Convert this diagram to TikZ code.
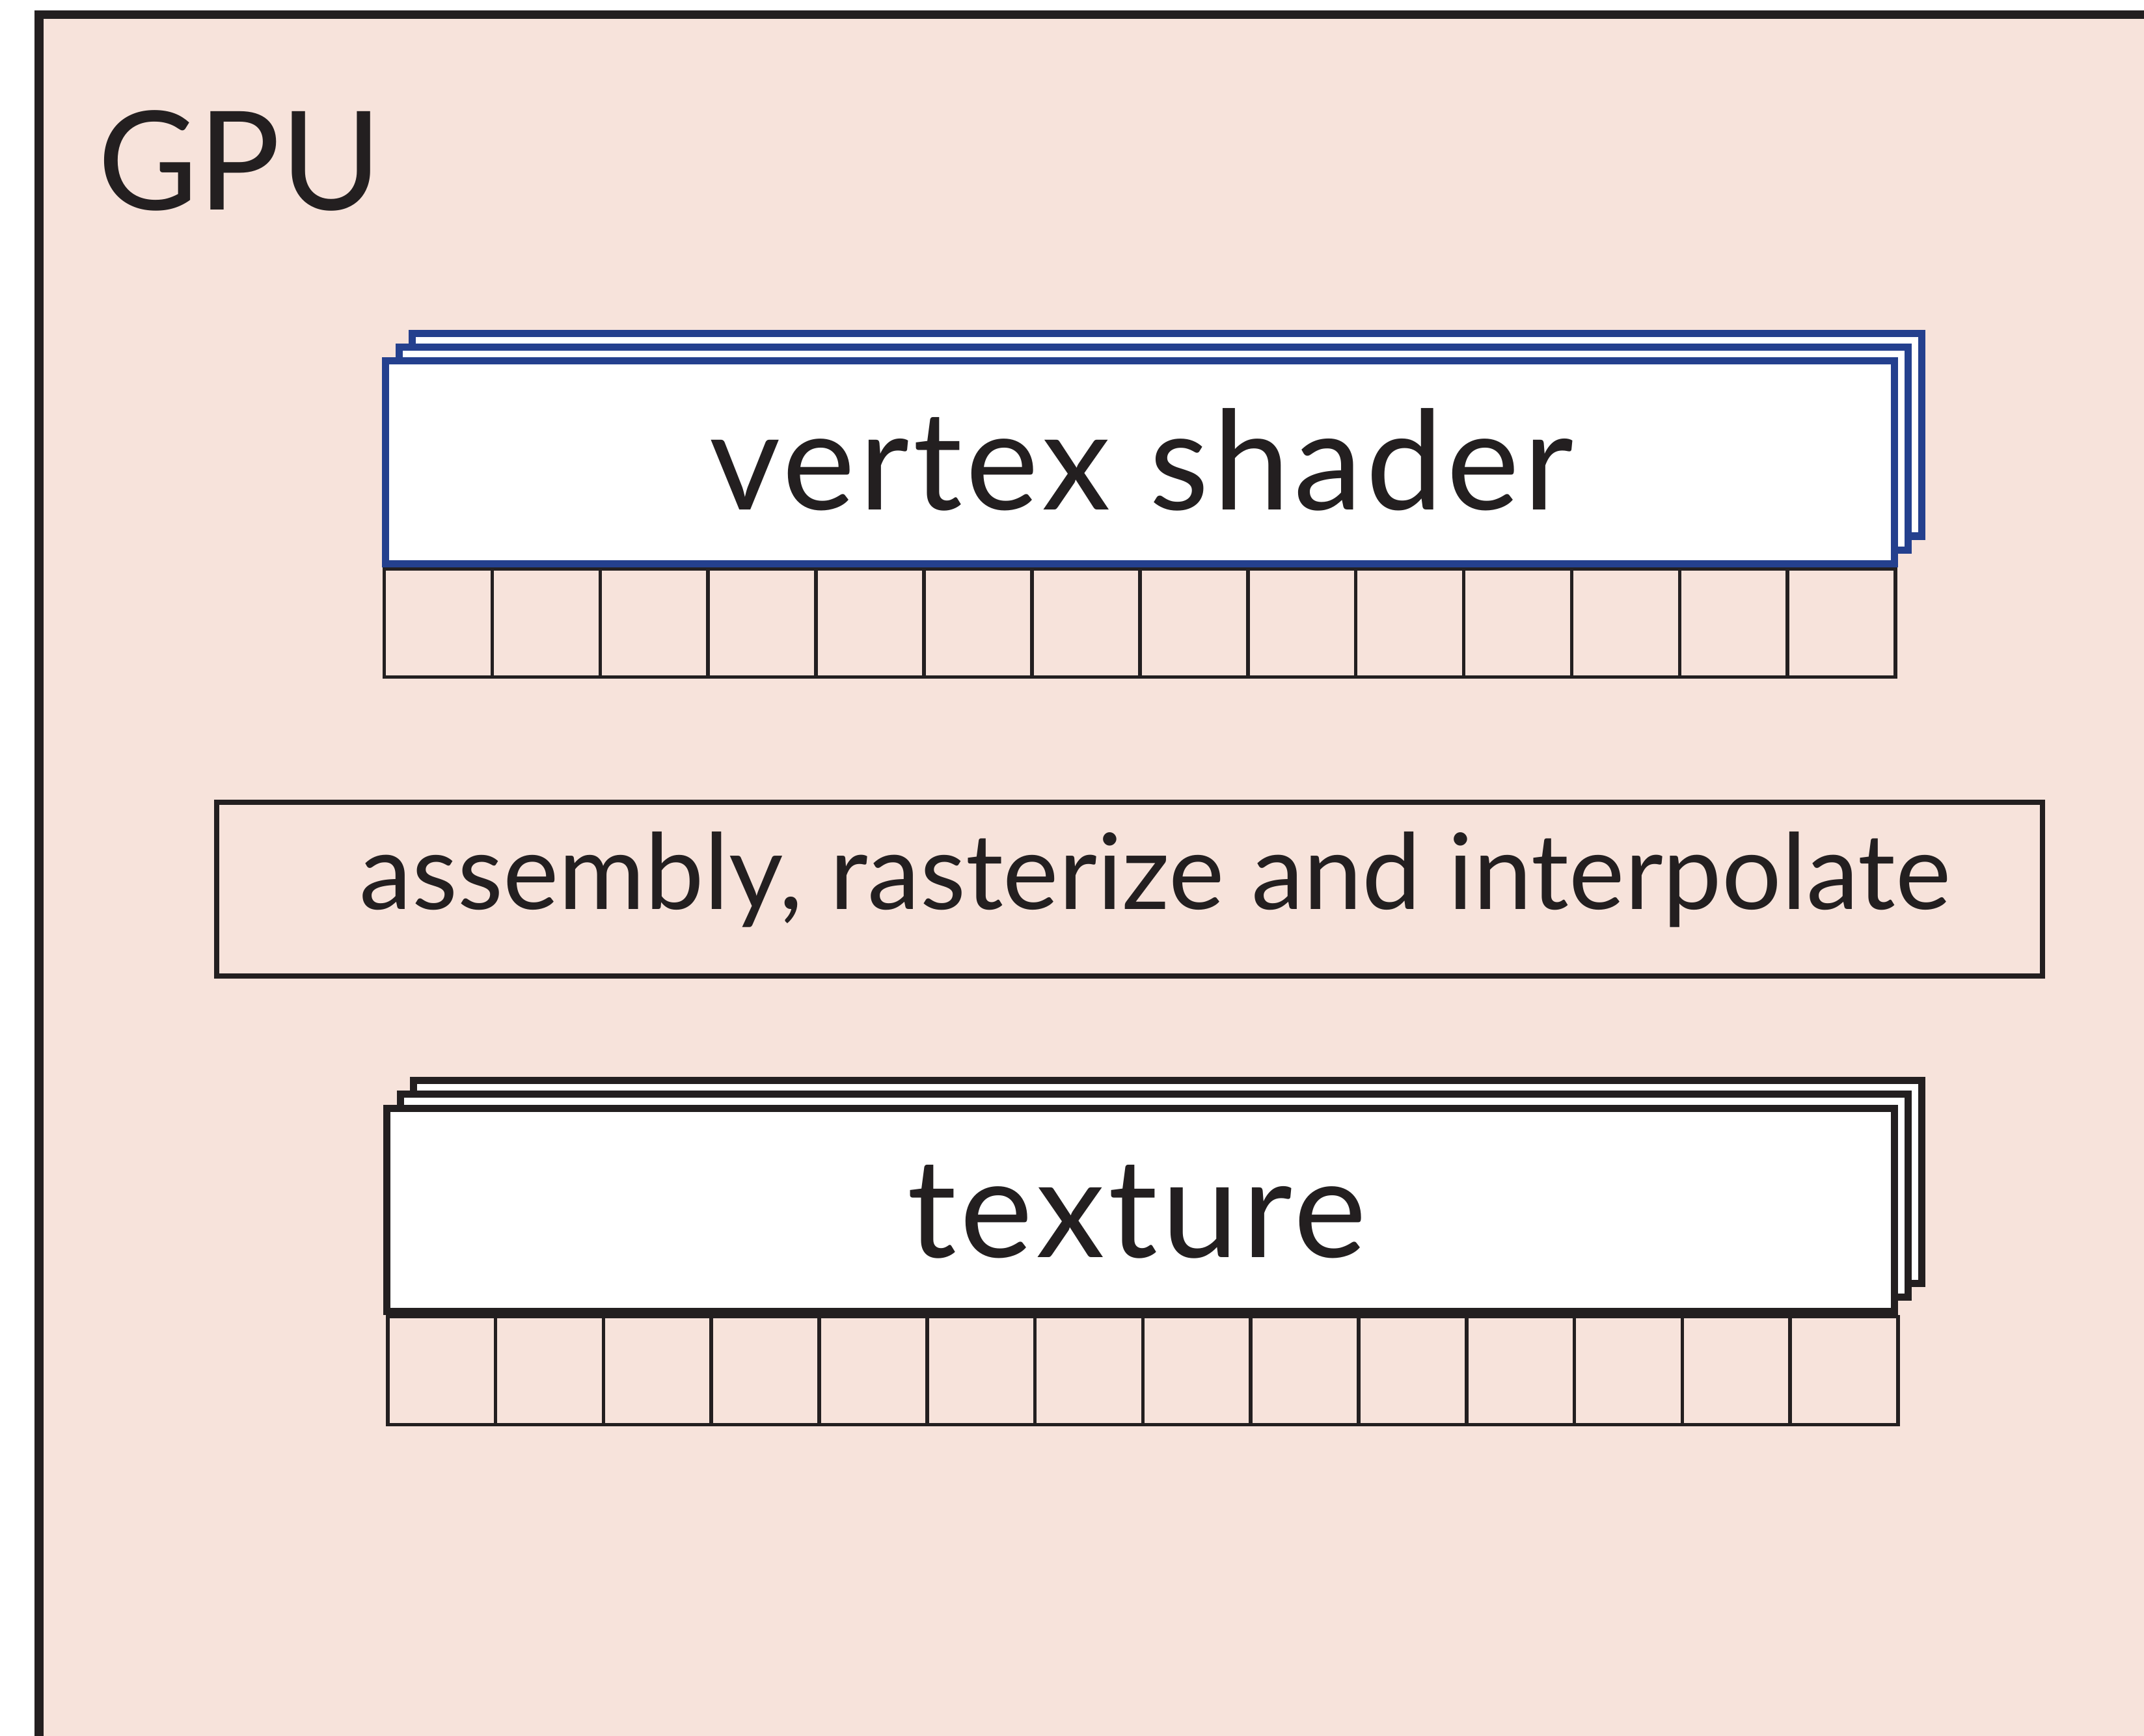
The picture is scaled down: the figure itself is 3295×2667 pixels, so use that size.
\documentclass[tikz,border=0pt]{standalone}
\usepackage{fontspec}
\setmainfont{Lato}
\definecolor{gpufill}{RGB}{247,227,219}
\definecolor{inkblack}{RGB}{35,31,32}
\definecolor{shaderblue}{RGB}{36,64,142}
\begin{document}
\begin{tikzpicture}[x=0.01cm,y=-0.01cm,
  every node/.style={outer sep=0pt},
  framebox/.style={draw=inkblack,line width=0.13cm,fill=gpufill,inner sep=0pt,anchor=north west,minimum width=34cm,minimum height=28cm},
  vsbox/.style={draw=shaderblue,line width=0.11cm,fill=white,inner sep=0pt,minimum width=23.18cm,minimum height=3.115cm},
  texbox/.style={draw=inkblack,line width=0.11cm,fill=white,inner sep=0pt,minimum width=23.16cm,minimum height=3.114cm},
  asmbox/.style={draw=inkblack,line width=0.08cm,inner sep=0pt,minimum width=28.04cm,minimum height=2.665cm},
  cellbox/.style={draw=inkblack,line width=0.055cm,inner sep=0pt,minimum width=1.659cm,minimum height=1.66cm,anchor=west},
  bigtext/.style={inner sep=0pt,anchor=base,text=inkblack,font=\fontsize{60.2pt}{72pt}\selectfont\addfontfeature{LetterSpace=2.8}},
  midtext/.style={inner sep=0pt,anchor=base,text=inkblack,font=\fontsize{46pt}{55pt}\selectfont},
  gputext/.style={inner sep=0pt,anchor=base west,text=inkblack,font=\fontsize{60pt}{72pt}\selectfont}]
\useasboundingbox (0,0) rectangle (3295,2667);
\fill[white] (0,0) rectangle (3295,2667);
\clip (0,0) rectangle (3295,2667);
% GPU frame
\node[framebox] (gpu) at (60,22.7) {};
\node[gputext] (gpulabel) at (150,323) {GPU};
% vertex shader grid
\foreach \i in {0,...,13} {
  \node[cellbox] (vc\i) at ({590.5+165.9*\i},957.5) {};
}
% vertex shader stack
\node[vsbox] (vs3) at (1793.4,668.15) {};
\node[vsbox] (vs2) at (1772.7,689.45) {};
\node[vsbox] (vs) at (1752,710.75) {};
\node[bigtext] (vslabel) at (1754.5,783.3) {vertex shader};
% assembly
\node[asmbox] (asm) at (1736.25,1366.75) {};
\node[midtext] (asmlabel) at (1775.5,1397) {assembly, rasterize and interpolate};
% texture grid
\foreach \i in {0,...,13} {
  \node[cellbox,minimum width=1.658cm,minimum height=1.656cm] (tc\i) at ({595.8+165.8*\i},2106.5) {};
}
% texture stack
\node[texbox] (tex3) at (1794.5,1816.7) {};
\node[texbox] (tex2) at (1773.8,1837.75) {};
\node[texbox] (tex) at (1753.1,1859.3) {};
\node[bigtext] (texlabel) at (1747,1932.5) {texture};
\end{tikzpicture}
\end{document}
